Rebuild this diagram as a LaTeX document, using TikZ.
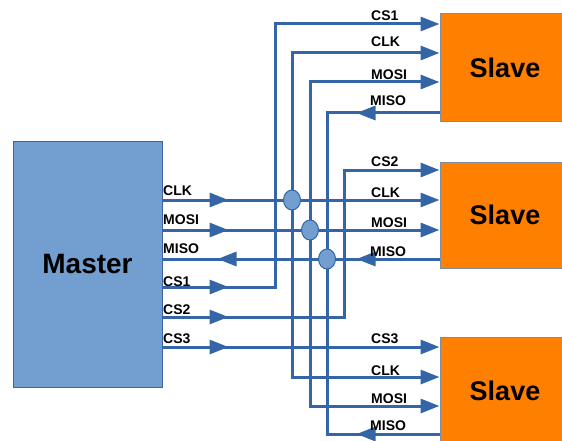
\documentclass[tikz,border=0pt]{standalone}
\usepackage{fontspec}
\setmainfont{Liberation Sans}
\usetikzlibrary{arrows.meta,decorations.markings,shapes.geometric}
\definecolor{wireblue}{RGB}{52,101,166}
\definecolor{masterfill}{RGB}{114,159,208}
\definecolor{masterline}{RGB}{60,100,160}
\definecolor{slavefill}{RGB}{255,128,0}
\definecolor{slaveline}{RGB}{128,140,165}
\begin{document}
\begin{tikzpicture}[x=1pt,y=-1pt,
  wire/.style={line width=3pt,color=wireblue,line join=miter},
  tipend/.style={-{Triangle[length=19pt,width=14pt]}},
  midtip/.style={postaction={decorate},
    decoration={markings,mark=at position #1 with {\arrow{Triangle[length=19pt,width=14pt]}}}},
  twotips/.style 2 args={postaction={decorate},
    decoration={markings,
      mark=at position #1 with {\arrow{Triangle[length=19pt,width=14pt]}},
      mark=at position #2 with {\arrow{Triangle[length=19pt,width=14pt]}}}},
  masterbox/.style={draw=masterline,line width=1pt,fill=masterfill,
    minimum width=149pt,minimum height=245pt,inner sep=0pt,
    font=\fontsize{28}{30}\selectfont\bfseries},
  slavebox/.style={draw=slaveline,line width=1pt,fill=slavefill,
    minimum width=130pt,inner sep=0pt,
    font=\fontsize{27}{29}\selectfont\bfseries},
  junction/.style={ellipse,draw=wireblue,line width=1pt,fill=masterfill,
    minimum width=17pt,minimum height=20pt,inner sep=0pt},
  lbl/.style={anchor=base west,inner sep=0pt,
    font=\fontsize{14}{16}\selectfont\bfseries}]
\clip (0,0) rectangle (562,441);

% boxes
\node[masterbox] (master) at (87.5,264.5) {Master};
\node[slavebox,minimum height=108pt] (s1) at (505,68) {Slave};
\node[slavebox,minimum height=106pt] (s2) at (505,215) {Slave};
\node[slavebox,minimum height=108pt] (s3) at (505,391) {Slave};

% master pins
\coordinate (mclk)  at (master.east |- 0,200);
\coordinate (mmosi) at (master.east |- 0,230);
\coordinate (mmiso) at (master.east |- 0,259);
\coordinate (mcs1)  at (master.east |- 0,287);
\coordinate (mcs2)  at (master.east |- 0,317);
\coordinate (mcs3)  at (master.east |- 0,347);

% slave pins
\coordinate (s1cs)   at (s1.west |- 0,24);
\coordinate (s1clk)  at (s1.west |- 0,53);
\coordinate (s1mosi) at (s1.west |- 0,82);
\coordinate (s1miso) at (s1.west |- 0,113);
\coordinate (s2cs)   at (s2.west |- 0,170);
\coordinate (s2clk)  at (s2.west |- 0,200);
\coordinate (s2mosi) at (s2.west |- 0,230);
\coordinate (s2miso) at (s2.west |- 0,259);
\coordinate (s3cs)   at (s3.west |- 0,347);
\coordinate (s3clk)  at (s3.west |- 0,377);
\coordinate (s3mosi) at (s3.west |- 0,406);
\coordinate (s3miso) at (s3.west |- 0,434);

% bus junctions
\coordinate (jclk)  at (292,200);
\coordinate (jmosi) at (310,230);
\coordinate (jmiso) at (327,259);
\coordinate (bcs1)  at (275,287);
\coordinate (bcs2)  at (344,317);

% shared lines
\draw[wire,midtip=66pt,tipend] (mclk) -- (s2clk);
\draw[wire,midtip=66pt,tipend] (mmosi) -- (s2mosi);
\draw[wire,twotips={83pt}{222pt}] (s2miso) -- (mmiso);
\draw[wire,tipend] (jclk) |- (s1clk);
\draw[wire,tipend] (jclk) |- (s3clk);
\draw[wire,tipend] (jmosi) |- (s1mosi);
\draw[wire,tipend] (jmosi) |- (s3mosi);
\draw[wire,midtip=83pt] (s1miso) -| (jmiso);
\draw[wire,midtip=83pt] (s3miso) -| (jmiso);

% chip selects
\draw[wire,midtip=66pt,tipend] (mcs1) -- (bcs1) |- (s1cs);
\draw[wire,midtip=66pt,tipend] (mcs2) -- (bcs2) |- (s2cs);
\draw[wire,midtip=66pt,tipend] (mcs3) -- (s3cs);

% junction dots
\node[junction] (dclk)  at (jclk)  {};
\node[junction] (dmosi) at (jmosi) {};
\node[junction] (dmiso) at (jmiso) {};

% master side labels
\node[lbl] (lmclk)  at (163,195) {CLK};
\node[lbl] (lmmosi) at (163,224) {MOSI};
\node[lbl] (lmmiso) at (163,253) {MISO};
\node[lbl] (lmcs1)  at (163,286) {CS1};
\node[lbl] (lmcs2)  at (163,314) {CS2};
\node[lbl] (lmcs3)  at (163,343) {CS3};

% slave side labels
\node[lbl] (l1cs)   at (371,21)  {CS1};
\node[lbl] (l1clk)  at (371,47)  {CLK};
\node[lbl] (l1mosi) at (371,80)  {MOSI};
\node[lbl] (l1miso) at (370,106) {MISO};
\node[lbl] (l2cs)   at (371,166) {CS2};
\node[lbl] (l2clk)  at (371,197) {CLK};
\node[lbl] (l2mosi) at (371,227) {MOSI};
\node[lbl] (l2miso) at (370,256) {MISO};
\node[lbl] (l3cs)   at (371,343) {CS3};
\node[lbl] (l3clk)  at (371,375) {CLK};
\node[lbl] (l3mosi) at (371,403) {MOSI};
\node[lbl] (l3miso) at (370,430) {MISO};
\end{tikzpicture}
\end{document}
